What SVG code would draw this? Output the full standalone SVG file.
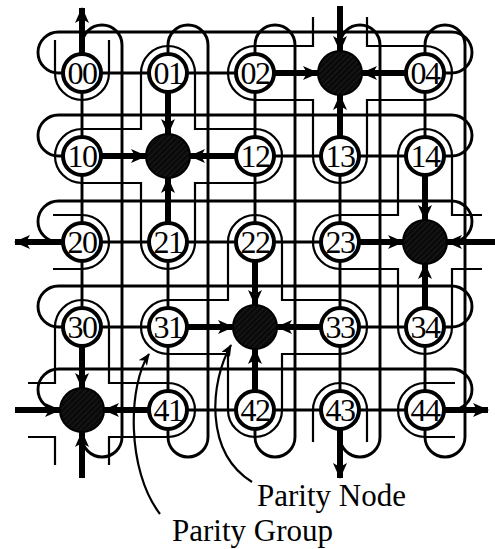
<svg xmlns="http://www.w3.org/2000/svg" width="495" height="549" viewBox="0 0 495 549">
<style>
.w{fill:none;stroke:#000;stroke-width:2.9}
.g{fill:none;stroke:#000;stroke-width:2.2}
.t{fill:none;stroke:#000;stroke-width:6;marker-end:url(#ah)}
.n{fill:#fff;stroke:#000;stroke-width:4}
.p{fill:url(#hatch);stroke:#000;stroke-width:2}
.lb{font-family:"Liberation Serif","Times New Roman",serif;font-size:32px;letter-spacing:-1.5px;text-anchor:middle;fill:#000}
.cap{font-family:"Liberation Serif","Times New Roman",serif;font-size:31px;fill:#000}
.ld{fill:none;stroke:#000;stroke-width:2.2}
</style>
<defs>
<marker id="ah" viewBox="0 0 16 14" markerWidth="16" markerHeight="14" refX="15" refY="7" orient="auto" markerUnits="userSpaceOnUse"><path d="M0,0 L16,7 L0,14 L4,7 Z" fill="#000"/></marker>
<marker id="sa" viewBox="0 0 12 10" markerWidth="12" markerHeight="10" refX="11" refY="5" orient="auto-start-reverse" markerUnits="userSpaceOnUse"><path d="M0,0 L12,5 L0,10 L3,5 Z" fill="#000"/></marker>
<pattern id="hatch" width="4" height="4" patternUnits="userSpaceOnUse" patternTransform="rotate(45)"><rect width="4" height="4" fill="#0a0a0a"/><line x1="0" y1="0" x2="0" y2="4" stroke="#333" stroke-width="0.8"/></pattern>
</defs>
<g id="connectors">
<rect class="w" x="38" y="32" width="434" height="41" rx="20.5"/>
<rect class="w" x="38" y="115" width="434" height="41" rx="20.5"/>
<rect class="w" x="38" y="201" width="434" height="41" rx="20.5"/>
<rect class="w" x="38" y="286" width="434" height="41" rx="20.5"/>
<rect class="w" x="38" y="369" width="434" height="41" rx="20.5"/>
<rect class="w" x="82" y="25" width="40" height="432" rx="20"/>
<rect class="w" x="168" y="25" width="40" height="432" rx="20"/>
<rect class="w" x="255" y="25" width="40" height="432" rx="20"/>
<rect class="w" x="340" y="25" width="40" height="432" rx="20"/>
<rect class="w" x="425" y="25" width="40" height="432" rx="20"/>
<path class="g" d="M141,129 L141,73 A27,27 0 0 1 195,73 L195,129 L255,129 A27,27 0 0 1 255,183 L195,183 L195,242 A27,27 0 0 1 141,242 L141,183 L82,183 A27,27 0 0 1 82,129 Z"/>
<path class="g" d="M367,17 L367,46 L425,46 A27,27 0 0 1 425,100 L367,100 L367,156 A27,27 0 0 1 313,156 L313,100 L255,100 A27,27 0 0 1 255,46 L313,46 L313,17"/>
<path class="g" d="M482,269 L452,269 L452,327 A27,27 0 0 1 398,327 L398,269 L340,269 A27,27 0 0 1 340,215 L398,215 L398,156 A27,27 0 0 1 452,156 L452,215 L482,215"/>
<path class="g" d="M228,300 L228,242 A27,27 0 0 1 282,242 L282,300 L340,300 A27,27 0 0 1 340,354 L282,354 L282,410 A27,27 0 0 1 228,410 L228,354 L168,354 A27,27 0 0 1 168,300 Z"/>
<path class="g" d="M28,383 L55,383 L55,327 A27,27 0 0 1 109,327 L109,383 L168,383 A27,27 0 0 1 168,437 L109,437 L109,465"/>
<path class="g" d="M55,465 L55,437 L28,437"/>
<path class="g" d="M55,40 L55,73 A27,27 0 0 0 109,73 L109,40"/>
<path class="g" d="M455,383 L425,383 A27,27 0 0 0 425,437 L455,437"/>
<path class="g" d="M313,442 L313,410 A27,27 0 0 1 367,410 L367,442"/>
<path class="g" d="M53,215 L82,215 A27,27 0 0 1 82,269 L53,269"/>
<line class="t" x1="274" y1="73" x2="318" y2="73"/>
<line class="t" x1="406" y1="73" x2="362" y2="73"/>
<line class="t" x1="340" y1="137" x2="340" y2="95"/>
<line class="t" x1="340" y1="6" x2="340" y2="51"/>
<line class="t" x1="101" y1="156" x2="146" y2="156"/>
<line class="t" x1="236" y1="156" x2="190" y2="156"/>
<line class="t" x1="168" y1="92" x2="168" y2="134"/>
<line class="t" x1="168" y1="223" x2="168" y2="178"/>
<line class="t" x1="359" y1="242" x2="403" y2="242"/>
<line class="t" x1="425" y1="175" x2="425" y2="220"/>
<line class="t" x1="425" y1="308" x2="425" y2="264"/>
<line class="t" x1="495" y1="242" x2="447" y2="242"/>
<line class="t" x1="187" y1="327" x2="233" y2="327"/>
<line class="t" x1="321" y1="327" x2="277" y2="327"/>
<line class="t" x1="255" y1="261" x2="255" y2="305"/>
<line class="t" x1="255" y1="391" x2="255" y2="349"/>
<line class="t" x1="82" y1="346" x2="82" y2="388"/>
<line class="t" x1="149" y1="410" x2="104" y2="410"/>
<line class="t" x1="15" y1="410" x2="60" y2="410"/>
<line class="t" x1="82" y1="478" x2="82" y2="432"/>
<line class="t" x1="82" y1="54" x2="82" y2="8"/>
<line class="t" x1="63" y1="242" x2="15" y2="242"/>
<line class="t" x1="444" y1="410" x2="488" y2="410"/>
<line class="t" x1="340" y1="429" x2="340" y2="478"/>
<path class="ld" marker-start="url(#sa)" d="M149,354 C128,385 126,470 160,514"/>
<path class="ld" marker-start="url(#sa)" d="M231,345 C210,382 204,452 252,482"/>
</g>
<g id="n00"><circle class="n" cx="82" cy="73" r="19"/><text class="lb" x="82" y="84">00</text></g>
<g id="n01"><circle class="n" cx="168" cy="73" r="19"/><text class="lb" x="168" y="84">01</text></g>
<g id="n02"><circle class="n" cx="255" cy="73" r="19"/><text class="lb" x="255" y="84">02</text></g>
<g id="n03"><circle class="p" cx="340" cy="73" r="22"/></g>
<g id="n04"><circle class="n" cx="425" cy="73" r="19"/><text class="lb" x="425" y="84">04</text></g>
<g id="n10"><circle class="n" cx="82" cy="156" r="19"/><text class="lb" x="82" y="167">10</text></g>
<g id="n11"><circle class="p" cx="168" cy="156" r="22"/></g>
<g id="n12"><circle class="n" cx="255" cy="156" r="19"/><text class="lb" x="255" y="167">12</text></g>
<g id="n13"><circle class="n" cx="340" cy="156" r="19"/><text class="lb" x="340" y="167">13</text></g>
<g id="n14"><circle class="n" cx="425" cy="156" r="19"/><text class="lb" x="425" y="167">14</text></g>
<g id="n20"><circle class="n" cx="82" cy="242" r="19"/><text class="lb" x="82" y="253">20</text></g>
<g id="n21"><circle class="n" cx="168" cy="242" r="19"/><text class="lb" x="168" y="253">21</text></g>
<g id="n22"><circle class="n" cx="255" cy="242" r="19"/><text class="lb" x="255" y="253">22</text></g>
<g id="n23"><circle class="n" cx="340" cy="242" r="19"/><text class="lb" x="340" y="253">23</text></g>
<g id="n24"><circle class="p" cx="425" cy="242" r="22"/></g>
<g id="n30"><circle class="n" cx="82" cy="327" r="19"/><text class="lb" x="82" y="338">30</text></g>
<g id="n31"><circle class="n" cx="168" cy="327" r="19"/><text class="lb" x="168" y="338">31</text></g>
<g id="n32"><circle class="p" cx="255" cy="327" r="22"/></g>
<g id="n33"><circle class="n" cx="340" cy="327" r="19"/><text class="lb" x="340" y="338">33</text></g>
<g id="n34"><circle class="n" cx="425" cy="327" r="19"/><text class="lb" x="425" y="338">34</text></g>
<g id="n40"><circle class="p" cx="82" cy="410" r="22"/></g>
<g id="n41"><circle class="n" cx="168" cy="410" r="19"/><text class="lb" x="168" y="421">41</text></g>
<g id="n42"><circle class="n" cx="255" cy="410" r="19"/><text class="lb" x="255" y="421">42</text></g>
<g id="n43"><circle class="n" cx="340" cy="410" r="19"/><text class="lb" x="340" y="421">43</text></g>
<g id="n44"><circle class="n" cx="425" cy="410" r="19"/><text class="lb" x="425" y="421">44</text></g>
<g id="labels">
<text class="cap" x="257" y="506">Parity Node</text>
<text class="cap" x="172" y="541">Parity Group</text>
</g>
</svg>
